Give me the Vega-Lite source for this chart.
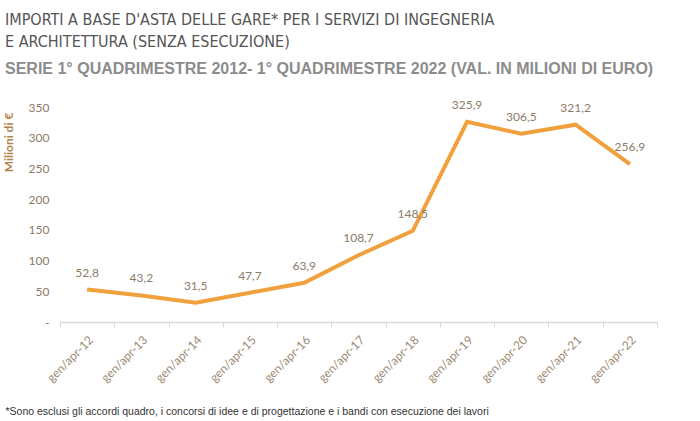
{
  "$schema": "https://vega.github.io/schema/vega-lite/v6.json",
  "width": 597,
  "height": 215,
  "autosize": {"type": "none"},
  "padding": {"left": 60, "top": 107, "right": 43, "bottom": 99},
  "background": "white",
  "config": {
    "view": {"stroke": null},
    "locale": {"number": {"decimal": ",", "thousands": ".", "grouping": [3], "currency": ["", " €"]}}
  },
  "title": {
    "text": ["IMPORTI A BASE D'ASTA DELLE GARE* PER I SERVIZI DI INGEGNERIA", "E ARCHITETTURA (SENZA ESECUZIONE)"],
    "subtitle": "SERIE 1° QUADRIMESTRE 2012-  1° QUADRIMESTRE 2022 (VAL. IN MILIONI DI EURO)",
    "anchor": "start",
    "frame": "group",
    "dx": -55,
    "offset": 22,
    "font": "DejaVu Sans Condensed, Liberation Sans Narrow, sans-serif",
    "fontSize": 16,
    "fontWeight": "normal",
    "color": "#555555",
    "lineHeight": 22,
    "subtitleFont": "Liberation Sans",
    "subtitleFontSize": 16,
    "subtitleFontWeight": "bold",
    "subtitleColor": "#8c8c8c",
    "subtitlePadding": 11
  },
  "data": {
    "values": [
      {"periodo": "gen/apr-12", "valore": 52.8},
      {"periodo": "gen/apr-13", "valore": 43.2},
      {"periodo": "gen/apr-14", "valore": 31.5},
      {"periodo": "gen/apr-15", "valore": 47.7},
      {"periodo": "gen/apr-16", "valore": 63.9},
      {"periodo": "gen/apr-17", "valore": 108.7},
      {"periodo": "gen/apr-18", "valore": 148.5},
      {"periodo": "gen/apr-19", "valore": 325.9},
      {"periodo": "gen/apr-20", "valore": 306.5},
      {"periodo": "gen/apr-21", "valore": 321.2},
      {"periodo": "gen/apr-22", "valore": 256.9}
    ]
  },
  "encoding": {
    "x": {
      "field": "periodo",
      "type": "ordinal",
      "sort": null,
      "scale": {"paddingInner": 0, "paddingOuter": 0},
      "axis": {
        "title": "*Sono esclusi gli accordi quadro, i concorsi di idee e di progettazione e i bandi con esecuzione dei lavori",
        "titleAnchor": "start",
        "titleAlign": "left",
        "titleBaseline": "alphabetic",
        "titleX": -55,
        "titleY": 92,
        "titleFont": "Liberation Sans",
        "titleFontSize": 10.5,
        "titleFontWeight": "normal",
        "titleColor": "#333333",
        "labelAngle": -45,
        "labelFont": "Lato",
        "labelFontSize": 12,
        "labelColor": "#9c8b74",
        "labelPadding": 7,
        "tickBand": "extent",
        "tickColor": "#d9d9d9",
        "tickSize": 5,
        "domainColor": "#d9d9d9",
        "domainWidth": 1.5,
        "grid": false
      }
    },
    "y": {
      "field": "valore",
      "type": "quantitative",
      "scale": {"domain": [0, 350], "nice": false},
      "axis": {
        "title": "Milioni di €",
        "titleAngle": -90,
        "titleAlign": "center",
        "titleBaseline": "middle",
        "titleX": -52,
        "titleY": 35,
        "titleFont": "Lato",
        "titleFontSize": 12,
        "titleFontWeight": "bold",
        "titleColor": "#b3834a",
        "values": [0, 50, 100, 150, 200, 250, 300, 350],
        "labelExpr": "datum.value == 0 ? '-' : datum.label",
        "labelFont": "Lato",
        "labelFontSize": 12,
        "labelColor": "#8c7b68",
        "labelPadding": 11,
        "ticks": false,
        "domain": false,
        "grid": false
      }
    }
  },
  "layer": [
    {
      "mark": {"type": "line", "color": "#f0a03c", "strokeWidth": 4, "strokeJoin": "miter"}
    },
    {
      "mark": {"type": "text", "dy": -17, "baseline": "middle", "font": "Lato", "fontSize": 12, "color": "#8c7b68"},
      "encoding": {"text": {"field": "valore", "type": "quantitative", "format": ".1f"}}
    }
  ]
}
